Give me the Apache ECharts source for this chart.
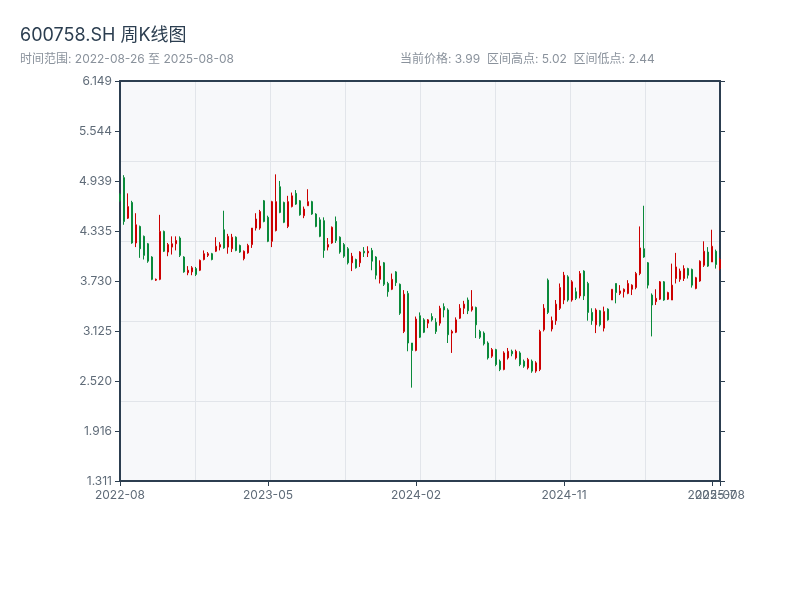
<!DOCTYPE html>
<html>
<head>
<meta charset="utf-8">
<script src="https://cdn.jsdelivr.net/npm/echarts@6/dist/echarts.min.js"></script>
<style>html,body{margin:0;padding:0;background:#fff;}#main{width:800px;height:600px;}</style>
</head>
<body>
<div id="main"></div>
<script>
var dates = [
'2022-08-26','2022-09-02','2022-09-09','2022-09-16','2022-09-23','2022-09-30','2022-10-14','2022-10-21','2022-10-28','2022-11-04',
'2022-11-11','2022-11-18','2022-11-25','2022-12-02','2022-12-09','2022-12-16','2022-12-23','2022-12-30','2023-01-06','2023-01-13',
'2023-01-20','2023-02-03','2023-02-10','2023-02-17','2023-02-24','2023-03-03','2023-03-10','2023-03-17','2023-03-24','2023-03-31',
'2023-04-07','2023-04-14','2023-04-21','2023-04-28','2023-05-05','2023-05-12','2023-05-19','2023-05-26','2023-06-02','2023-06-09',
'2023-06-16','2023-06-21','2023-06-30','2023-07-07','2023-07-14','2023-07-21','2023-07-28','2023-08-04','2023-08-11','2023-08-18',
'2023-08-25','2023-09-01','2023-09-08','2023-09-15','2023-09-22','2023-09-28','2023-10-13','2023-10-20','2023-10-27','2023-11-03',
'2023-11-10','2023-11-17','2023-11-24','2023-12-01','2023-12-08','2023-12-15','2023-12-22','2023-12-29','2024-01-05','2024-01-12',
'2024-01-19','2024-01-26','2024-02-02','2024-02-08','2024-02-23','2024-03-01','2024-03-08','2024-03-15','2024-03-22','2024-03-29',
'2024-04-03','2024-04-12','2024-04-19','2024-04-26','2024-04-30','2024-05-10','2024-05-17','2024-05-24','2024-05-31','2024-06-07',
'2024-06-14','2024-06-21','2024-06-28','2024-07-05','2024-07-12','2024-07-19','2024-07-26','2024-08-02','2024-08-09','2024-08-16',
'2024-08-23','2024-08-30','2024-09-06','2024-09-13','2024-09-20','2024-09-27','2024-09-30','2024-10-11','2024-10-18','2024-10-25',
'2024-11-01','2024-11-08','2024-11-15','2024-11-22','2024-11-29','2024-12-06','2024-12-13','2024-12-20','2024-12-27','2025-01-03',
'2025-01-10','2025-01-17','2025-01-24','2025-01-27','2025-02-07','2025-02-14','2025-02-21','2025-02-28','2025-03-07','2025-03-14',
'2025-03-21','2025-03-28','2025-04-03','2025-04-11','2025-04-18','2025-04-25','2025-04-30','2025-05-09','2025-05-16','2025-05-23',
'2025-05-30','2025-06-06','2025-06-13','2025-06-20','2025-06-27','2025-07-04','2025-07-11','2025-07-18','2025-07-25','2025-08-01',
'2025-08-08'
];
var openP = [
4.78,4.98,4.49,4.68,4.19,4.39,4.27,4.18,4.02,3.74,
3.75,4.33,4.08,4.14,4.18,4.25,4.02,3.83,3.84,3.88,
3.86,3.99,4.04,4.06,4.09,4.14,4.35,4.14,4.12,4.26,
4.16,4.00,4.07,4.17,4.37,4.37,4.70,4.50,4.21,4.34,
4.87,4.68,4.39,4.63,4.79,4.70,4.52,4.64,4.69,4.54,
4.47,4.46,4.14,4.19,4.45,4.26,4.17,4.12,3.95,3.99,
3.95,4.09,4.07,4.10,4.02,3.75,3.95,3.70,3.63,3.84,
3.69,3.12,3.58,2.98,2.89,3.31,3.26,3.22,3.30,3.23,
3.22,3.42,3.38,3.10,3.11,3.28,3.40,3.50,3.38,3.41,
3.12,3.10,2.98,2.82,2.90,2.76,2.66,2.80,2.88,2.80,
2.86,2.76,2.68,2.76,2.64,2.66,3.14,3.74,3.15,3.25,
3.40,3.50,3.78,3.50,3.60,3.55,3.85,3.70,3.35,3.20,
3.37,3.16,3.39,3.50,3.70,3.58,3.60,3.58,3.63,3.65,
3.82,4.12,3.95,3.56,3.48,3.51,3.72,3.51,3.50,3.76,
3.75,3.76,3.88,3.87,3.64,3.73,3.92,4.08,3.96,4.09,
3.88
];
var closeP = [
4.70,4.45,4.63,4.19,4.41,4.12,4.04,3.97,3.75,3.75,
4.33,4.09,4.17,4.18,4.22,4.04,3.84,3.86,3.89,3.81,
3.98,4.06,4.06,3.99,4.15,4.17,4.13,4.27,4.26,4.10,
4.08,4.09,4.16,4.37,4.48,4.57,4.45,4.21,4.69,4.69,
4.56,4.44,4.69,4.76,4.66,4.53,4.60,4.69,4.54,4.39,
4.27,4.10,4.17,4.38,4.22,4.08,4.03,3.95,4.03,3.89,
4.08,4.07,4.09,3.97,3.80,3.91,3.69,3.60,3.75,3.71,
3.34,3.57,2.98,2.89,3.27,3.05,3.11,3.26,3.26,3.12,
3.40,3.38,3.08,3.12,3.26,3.40,3.45,3.37,3.42,3.20,
3.05,2.97,2.80,2.90,2.72,2.66,2.86,2.88,2.85,2.88,
2.72,2.70,2.78,2.64,2.74,3.12,3.40,3.35,3.25,3.45,
3.65,3.80,3.50,3.72,3.52,3.82,3.55,3.35,3.25,3.38,
3.20,3.36,3.26,3.63,3.59,3.61,3.63,3.70,3.68,3.82,
4.13,4.02,3.68,3.44,3.52,3.72,3.50,3.59,3.68,3.90,
3.85,3.88,3.80,3.68,3.77,3.97,4.09,3.91,4.15,3.93,
3.99
];
var lowP = [
4.69,4.41,4.48,4.18,4.14,4.01,3.99,3.95,3.74,3.73,
3.74,4.08,4.03,4.05,4.10,4.02,3.83,3.80,3.80,3.79,
3.85,3.98,4.02,3.98,4.08,4.10,4.12,4.06,4.08,4.09,
4.07,3.98,4.06,4.13,4.34,4.35,4.44,4.20,4.14,4.33,
4.55,4.43,4.37,4.62,4.65,4.52,4.49,4.64,4.53,4.38,
4.26,4.01,4.10,4.18,4.19,4.06,4.01,3.93,3.85,3.88,
3.90,4.02,4.02,3.86,3.75,3.70,3.67,3.54,3.62,3.67,
3.32,3.10,2.88,2.44,2.88,3.04,3.10,3.16,3.24,3.09,
3.19,3.29,2.98,2.86,3.10,3.27,3.33,3.33,3.36,3.04,
3.03,2.95,2.78,2.80,2.70,2.64,2.65,2.78,2.82,2.78,
2.70,2.68,2.66,2.62,2.62,2.64,3.12,3.33,3.12,3.20,
3.38,3.45,3.48,3.48,3.50,3.52,3.50,3.25,3.20,3.10,
3.18,3.12,3.25,3.50,3.46,3.56,3.53,3.57,3.56,3.63,
3.80,4.01,3.64,3.06,3.44,3.50,3.49,3.50,3.50,3.70,
3.72,3.73,3.76,3.65,3.63,3.72,3.90,3.90,3.96,3.88,
3.86
];
var highP = [
4.79,5.01,4.79,4.70,4.55,4.40,4.28,4.19,4.03,3.76,
4.53,4.34,4.19,4.27,4.27,4.27,4.03,3.91,3.91,3.90,
3.99,4.10,4.08,4.07,4.26,4.20,4.58,4.30,4.30,4.27,
4.17,4.10,4.18,4.37,4.55,4.59,4.71,4.52,4.70,5.02,
4.94,4.69,4.76,4.80,4.83,4.71,4.63,4.84,4.70,4.55,
4.50,4.50,4.25,4.39,4.51,4.27,4.19,4.14,4.07,4.00,
4.09,4.14,4.15,4.13,4.03,3.98,3.96,3.72,3.82,3.85,
3.70,3.62,3.61,2.98,3.30,3.35,3.28,3.27,3.34,3.28,
3.43,3.46,3.40,3.14,3.29,3.45,3.49,3.53,3.62,3.42,
3.14,3.12,3.00,2.92,2.91,2.78,2.88,2.92,2.90,2.90,
2.88,2.78,2.80,2.78,2.76,3.14,3.45,3.76,3.30,3.50,
3.70,3.84,3.80,3.74,3.65,3.85,3.86,3.72,3.40,3.40,
3.38,3.42,3.40,3.63,3.70,3.68,3.64,3.74,3.69,3.84,
4.39,4.64,3.96,3.58,3.63,3.73,3.73,3.60,3.94,4.07,
3.88,3.92,3.89,3.88,3.78,3.98,4.21,4.14,4.35,4.11,
4.01
];
var yTickLabels = ['1.311','1.916','2.520','3.125','3.730','4.335','4.939','5.544','6.149'];
var titleText = '600758.SH 周K线图';
var rangeText = '时间范围: 2022-08-26 至 2025-08-08';
var statText = '当前价格: 3.99  区间高点: 5.02  区间低点: 2.44';

var kData = dates.map(function (d, i) { return [openP[i], closeP[i], lowP[i], highP[i]]; });
var lastIdx = dates.length - 1;
function everyLabel(index) { return index % 37 === 0; }
function lastLabel(index) { return index === lastIdx; }
function monthFmt(v) { return v.slice(0, 7); }

var axisColor = '#2c3e50';
var labelColor = '#5f6b78';
var gridLineColor = '#e2e5ea';
var font = 'Inter, "Noto Sans CJK SC", sans-serif';

var chart = echarts.init(document.getElementById('main'));
chart.setOption({
  animation: false,
  textStyle: { fontFamily: font },
  title: [
    { text: titleText, left: 15, top: 22, textStyle: { fontSize: 18, fontWeight: 'normal', color: '#2c3e50', fontFamily: font } },
    { text: rangeText, left: 15, top: 48, textStyle: { fontSize: 12, fontWeight: 'normal', color: '#8a929c', fontFamily: font } },
    { text: statText, left: 395, top: 48, textStyle: { fontSize: 12, fontWeight: 'normal', color: '#8a929c', fontFamily: font } }
  ],
  grid: { left: 120, right: 80, top: 81, bottom: 119, show: true, backgroundColor: '#f7f8fa', borderWidth: 0 },
  xAxis: [
    {
      type: 'category', data: dates, boundaryGap: false, position: 'bottom',
      axisLine: { lineStyle: { color: axisColor, width: 2 } },
      axisTick: { show: true, interval: everyLabel, length: 5, lineStyle: { color: axisColor } },
      axisLabel: { interval: everyLabel, color: labelColor, fontSize: 12, margin: 8, formatter: monthFmt },
      splitLine: { show: false }
    },
    {
      type: 'value', position: 'top', min: 0, max: 8, interval: 1,
      axisLine: { show: true, lineStyle: { color: axisColor, width: 2 } },
      axisTick: { show: false }, axisLabel: { show: false },
      splitLine: { show: true, lineStyle: { color: gridLineColor, width: 1 } }
    },
    {
      type: 'category', data: dates, boundaryGap: false, position: 'bottom',
      axisLine: { show: false },
      axisTick: { show: true, interval: lastLabel, length: 5, lineStyle: { color: axisColor } },
      axisLabel: { interval: lastLabel, color: labelColor, fontSize: 12, margin: 8, formatter: monthFmt },
      splitLine: { show: false }
    }
  ],
  yAxis: [
    {
      type: 'value', position: 'left', min: 1.311, max: 6.149, interval: 0.60475,
      axisLine: { show: true, lineStyle: { color: axisColor, width: 2 } },
      axisTick: { show: true, length: 5, lineStyle: { color: axisColor } },
      axisLabel: { color: labelColor, fontSize: 12, margin: 8,
        formatter: function (v, idx) { return yTickLabels[idx] !== undefined ? yTickLabels[idx] : ''; } },
      splitLine: { show: false }
    },
    {
      type: 'value', position: 'right', min: 1.311, max: 6.149, interval: 0.60475,
      axisLine: { show: true, lineStyle: { color: axisColor, width: 2 } },
      axisTick: { show: true, length: 5, lineStyle: { color: axisColor } },
      axisLabel: { show: false },
      splitLine: { show: false }
    },
    {
      type: 'value', position: 'left', min: 0, max: 5, interval: 1,
      axisLine: { show: false }, axisTick: { show: false }, axisLabel: { show: false },
      splitLine: { show: true, lineStyle: { color: gridLineColor, width: 1 } }
    }
  ],
  series: [{
    type: 'candlestick',
    xAxisIndex: 0, yAxisIndex: 0,
    data: kData,
    barWidth: 2.4,
    itemStyle: {
      color: '#f04a4a', borderColor: '#cc0000',
      color0: '#0a8a3a', borderColor0: '#0a8a3a',
      borderWidth: 1
    }
  }]
});
</script>
</body>
</html>
